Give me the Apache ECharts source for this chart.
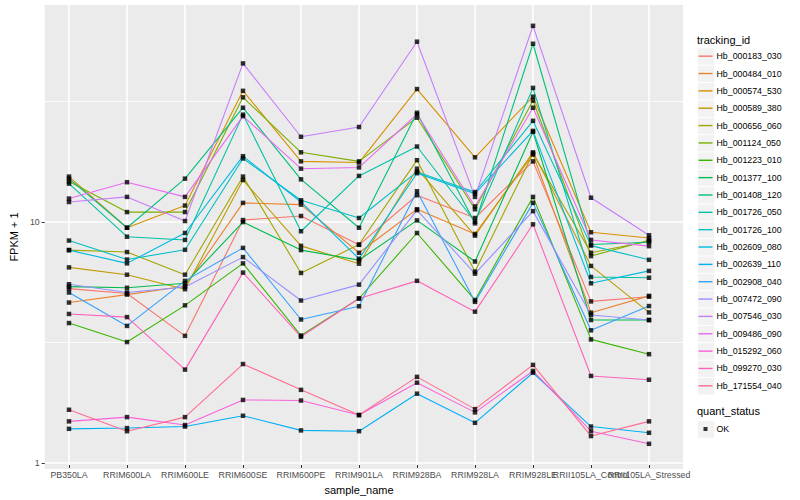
<!DOCTYPE html>
<html><head><meta charset="utf-8">
<script src="https://cdn.jsdelivr.net/npm/echarts@6/dist/echarts.min.js"></script>
<style>html,body{margin:0;padding:0;background:#fff}#chart{width:800px;height:500px}</style>
</head><body><div id="chart"></div>
<script>
const categories = ['PB350LA','RRIM600LA','RRIM600LE','RRIM600SE','RRIM600PE','RRIM901LA','RRIM928BA','RRIM928LA','RRIM928LE','RRII105LA_Control','RRII105LA_Stressed'];
const trackingIds = ['Hb_000183_030','Hb_000484_010','Hb_000574_530','Hb_000589_380','Hb_000656_060','Hb_001124_050','Hb_001223_010','Hb_001377_100','Hb_001408_120','Hb_001726_050','Hb_001726_100','Hb_002609_080','Hb_002639_110','Hb_002908_040','Hb_007472_090','Hb_007546_030','Hb_009486_090','Hb_015292_060','Hb_099270_030','Hb_171554_040'];
const palette = ['#F8766D','#EA8331','#D89000','#C09B00','#A3A500','#7CAE00','#39B600','#00BB4E','#00BF7D','#00C1A3','#00BFC4','#00BAE0','#00B0F6','#35A2FF','#9590FF','#C77CFF','#E76BF3','#FA62DB','#FF62BC','#FF6C90'];

const hb000183_030 = [5.17, 4.93, 3.28, 10.0, 10.4, 7.88, 12.7, 10.2, 17.6, 4.57, 4.78];
const hb000484_010 = [4.52, 4.88, 5.29, 11.8, 11.6, 7.30, 11.1, 8.75, 18.8, 4.10, 4.82];
const hb000574_530 = [15.2, 9.29, 11.5, 34.7, 17.6, 17.4, 35.3, 18.3, 32.8, 8.89, 8.42];
const hb000589_380 = [6.34, 5.91, 5.14, 14.7, 7.80, 6.57, 16.4, 8.61, 19.2, 6.43, 4.11];
const hb000656_060 = [7.49, 7.35, 5.91, 15.2, 6.01, 7.90, 17.8, 6.09, 19.0, 7.30, 8.16];
const hb001124_050 = [14.5, 10.8, 10.8, 32.6, 19.2, 17.6, 26.8, 11.1, 31.6, 7.07, 8.24];
const hb001223_010 = [3.71, 3.09, 4.40, 6.59, 3.29, 4.70, 8.83, 4.63, 12.5, 3.17, 2.75];
const hb001377_100 = [5.27, 5.21, 5.44, 9.81, 7.49, 6.80, 9.97, 6.71, 23.4, 3.82, 3.82];
const hb001408_120 = [14.9, 9.29, 14.9, 29.5, 14.8, 9.29, 28.1, 9.69, 54.6, 7.90, 8.08];
const hb001726_050 = [14.2, 8.52, 8.26, 27.6, 8.98, 15.3, 20.3, 9.84, 35.7, 5.78, 5.74];
const hb001726_100 = [8.21, 6.84, 7.51, 18.1, 12.1, 10.2, 15.9, 13.1, 26.0, 7.82, 6.82];
const hb002609_080 = [7.49, 6.59, 8.83, 18.5, 11.9, 6.89, 15.7, 12.9, 23.6, 5.44, 6.13];
const hb002639_110 = [1.34, 1.35, 1.37, 1.52, 1.32, 1.31, 1.88, 1.42, 2.30, 1.37, 1.29];
const hb002908_040 = [4.98, 3.61, 5.57, 7.65, 3.84, 4.36, 13.2, 4.55, 11.8, 3.46, 4.37];
const hb007472_090 = [5.39, 4.98, 5.25, 7.00, 4.61, 5.37, 11.0, 5.97, 10.9, 4.01, 3.82];
const hb007546_030 = [11.9, 12.5, 9.91, 45.2, 22.3, 24.5, 55.7, 12.5, 64.9, 12.4, 8.64];
const hb009486_090 = [12.3, 14.4, 12.5, 27.2, 16.4, 16.6, 27.7, 11.4, 29.5, 8.26, 7.78];
const hb015292_060 = [1.44, 1.50, 1.39, 1.77, 1.76, 1.53, 2.09, 1.57, 2.34, 1.31, 1.16];
const hb099270_030 = [4.05, 3.93, 2.37, 6.03, 3.25, 4.70, 5.57, 4.14, 9.60, 2.23, 2.15];
const hb171554_040 = [1.61, 1.31, 1.50, 2.50, 1.95, 1.53, 2.21, 1.62, 2.48, 1.25, 1.44];

const seriesValues = [hb000183_030, hb000484_010, hb000574_530, hb000589_380, hb000656_060, hb001124_050, hb001223_010, hb001377_100, hb001408_120, hb001726_050, hb001726_100, hb002609_080, hb002639_110, hb002908_040, hb007472_090, hb007546_030, hb009486_090, hb015292_060, hb099270_030, hb171554_040];

const yTicks = [1, 10];
const yMinorTicks = [3.1623, 31.623];
const yMin = 0.946, yMax = 79.3;
const statusLevels = ['OK'];

const font = '"Liberation Sans", Arial, Helvetica, sans-serif';
const chart = echarts.init(document.getElementById('chart'), null, {renderer: 'svg', width: 800, height: 500});

const lineSeries = trackingIds.map((id, i) => ({
  name: id, type: 'line', xAxisIndex: 1, yAxisIndex: 2,
  data: seriesValues[i], symbol: 'none', showSymbol: false,
  lineStyle: {width: 1.1, color: palette[i]}, itemStyle: {color: palette[i]},
  emphasis: {disabled: true}, z: 3, silent: true
}));
const pointData = [];
seriesValues.forEach(vals => vals.forEach((v, j) => pointData.push([categories[j], v])));

const keyTop = 47.5, keyH = 17.35, okTop = 420.3;
const keyStyle = {fill: '#F2F2F2', stroke: '#fff', lineWidth: 0.8};
const keyRects = trackingIds.map((id, i) => ({
  type: 'rect', left: 697, top: keyTop + i * keyH, z: 1,
  shape: {width: 17.3, height: keyH}, style: keyStyle
}));
keyRects.push({type: 'rect', left: 697, top: okTop, z: 1, shape: {width: 17.3, height: keyH}, style: keyStyle});

chart.setOption({
  animation: false,
  backgroundColor: '#fff',
  textStyle: {fontFamily: font},
  title: [
    {text: 'tracking_id', left: 697, top: 34.5, padding: 0, textStyle: {fontSize: 11, fontWeight: 'normal', color: '#000', fontFamily: font}},
    {text: 'quant_status', left: 697, top: 405.5, padding: 0, textStyle: {fontSize: 11, fontWeight: 'normal', color: '#000', fontFamily: font}}
  ],
  grid: [
    {left: 35, right: 117, top: 5, bottom: 31, show: true, backgroundColor: '#EBEBEB', borderWidth: 0},
    {left: 69, right: 151, top: 5, bottom: 31, show: false}
  ],
  xAxis: [
    {gridIndex: 0, type: 'category', data: categories, show: false},
    {gridIndex: 1, type: 'category', data: categories, boundaryGap: false,
     axisLine: {show: false},
     axisTick: {show: true, length: 3, lineStyle: {color: '#333333', width: 1}},
     axisLabel: {interval: 0, margin: 5, color: '#4D4D4D', fontSize: 8.8, fontFamily: font, hideOverlap: false},
     splitLine: {show: true, lineStyle: {color: '#ffffff', width: 1.6}},
     name: 'sample_name', nameLocation: 'middle', nameGap: 19,
     nameTextStyle: {fontSize: 11, color: '#000', fontFamily: font}}
  ],
  yAxis: [
    {gridIndex: 0, type: 'log', logBase: 10, min: yMin, max: yMax,
     axisLine: {show: false},
     axisTick: {show: true, length: 3, lineStyle: {color: '#333333', width: 1}, customValues: yTicks},
     axisLabel: {customValues: yTicks, margin: 5, color: '#4D4D4D', fontSize: 8.8, fontFamily: font},
     splitLine: {show: true, lineStyle: {color: '#ffffff', width: 1.6}},
     name: 'FPKM + 1', nameLocation: 'middle', nameGap: 20,
     nameTextStyle: {fontSize: 11, color: '#000', fontFamily: font}},
    {gridIndex: 0, type: 'log', logBase: 10, min: yMin, max: yMax, position: 'left',
     axisLine: {show: false},
     axisTick: {show: false, customValues: yMinorTicks},
     axisLabel: {show: false, customValues: yMinorTicks},
     splitLine: {show: true, lineStyle: {color: '#ffffff', width: 0.8}}},
    {gridIndex: 1, type: 'log', logBase: 10, min: yMin, max: yMax, show: false, splitLine: {show: false}}
  ],
  legend: [
    {data: trackingIds, orient: 'vertical', left: 698.5, top: keyTop, itemWidth: 14, itemHeight: keyH, itemGap: 0,
     icon: 'path://M0,0H14V1.4H0Z', selectedMode: false, z: 5, padding: 0,
     textStyle: {fontSize: 8.8, lineHeight: keyH, height: keyH, color: '#000', fontFamily: font, padding: [0, 0, 0, -1]}},
    {data: [{name: statusLevels[0], icon: 'path://M0,0H4V4H0Z'}], orient: 'vertical', left: 703.5, top: okTop, itemWidth: 4, itemHeight: 4,
     selectedMode: false, z: 5, padding: 0,
     textStyle: {fontSize: 8.8, lineHeight: keyH, height: keyH, color: '#000', fontFamily: font, padding: [0, 0, 0, 4]}}
  ],
  graphic: keyRects,
  series: lineSeries.concat([{
    name: statusLevels[0], type: 'scatter', xAxisIndex: 1, yAxisIndex: 2,
    data: pointData, symbol: 'rect', symbolSize: 4.5, itemStyle: {color: '#000'}, z: 4, silent: true,
    emphasis: {disabled: true}
  }])
});
</script></body></html>
